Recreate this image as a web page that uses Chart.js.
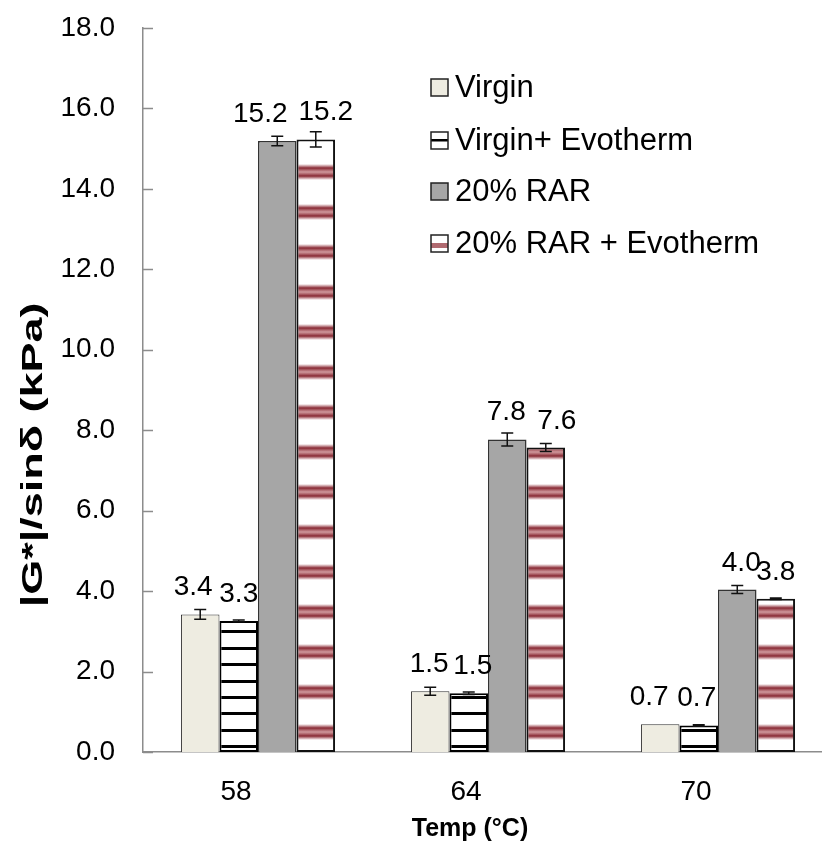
<!DOCTYPE html>
<html>
<head>
<meta charset="utf-8">
<script src="https://cdn.jsdelivr.net/npm/chart.js@4.4.0/dist/chart.umd.min.js"></script>
<style>
  html, body { margin: 0; padding: 0; background: #fff; overflow: hidden; }
  #wrap { width: 833px; height: 848px; }
</style>
</head>
<body>
<div id="wrap"><canvas id="g" width="833" height="848"></canvas></div>
<script>
// categorias e valores
var temps = ['58', '64', '70'];
var nomes = ['Virgin', 'Virgin+ Evotherm', '20% RAR', '20% RAR + Evotherm'];
var virgin      = [3.42, 1.51, 0.69];
var virginEvo   = [3.26, 1.46, 0.66];
var rar         = [15.19, 7.77, 4.04];
var rarEvo      = [15.23, 7.57, 3.81];
// barras de erro (+/-)
var errVirgin    = [0.12, 0.10, 0.00];
var errVirginEvo = [0.02, 0.03, 0.02];
var errRar       = [0.12, 0.16, 0.10];
var errRarEvo    = [0.19, 0.10, 0.02];
var yTicks = [0, 2, 4, 6, 8, 10, 12, 14, 16, 18];

// deslocamento horizontal dos rótulos (como o Excel afastou os textos)
var desloc = [[-7, -1, -11], [0, 4, -2], [-17, -1, 4], [10, 11, 0]];

var fonte = '"Liberation Sans", Arial, sans-serif';
var cinzaEixo = '#8c8c8c';

// padrão listrado preto (Virgin + Evotherm)
function padraoPreto() {
  var c = document.createElement('canvas');
  c.width = 8; c.height = 164;
  var x = c.getContext('2d');
  x.fillStyle = '#fff';
  x.fillRect(0, 0, 8, 164);
  x.fillStyle = '#000';
  for (var i = 0; i < 10; i++) {
    var y = Math.round(8.7 + i * 16.4 - 1.5);
    x.fillRect(0, y, 8, 3);
  }
  return x.createPattern(c, 'repeat');
}

// padrão listrado vermelho borrado (20% RAR + Evotherm)
function padraoVermelho() {
  var c = document.createElement('canvas');
  c.width = 8; c.height = 40;
  var x = c.getContext('2d');
  x.fillStyle = '#fff';
  x.fillRect(0, 0, 8, 40);
  var g = x.createLinearGradient(0, 4, 0, 20);
  g.addColorStop(0, 'rgba(150,50,60,0)');
  g.addColorStop(0.25, 'rgba(135,40,50,1)');
  g.addColorStop(0.5, 'rgba(195,125,130,0.8)');
  g.addColorStop(0.75, 'rgba(135,40,50,1)');
  g.addColorStop(1, 'rgba(150,50,60,0)');
  x.fillStyle = g;
  x.fillRect(0, 4, 8, 16);
  return x.createPattern(c, 'repeat');
}

var pPreto = padraoPreto();
var pVermelho = padraoVermelho();
var erros = [errVirgin, errVirginEvo, errRar, errRarEvo];

// desenha barras de erro, rótulos, ticks internos, legenda e títulos
var extras = {
  id: 'extras',
  afterDatasetsDraw: function (chart) {
    var ctx = chart.ctx;
    var ys = chart.scales.y;
    ctx.save();
    chart.data.datasets.forEach(function (ds, i) {
      var meta = chart.getDatasetMeta(i);
      meta.data.forEach(function (bar, j) {
        var v = ds.data[j], e = erros[i][j];
        var x = bar.x;
        if (e > 0) {
          var y1 = ys.getPixelForValue(v + e), y2 = ys.getPixelForValue(v - e);
          ctx.strokeStyle = '#111';
          ctx.lineWidth = 1.5;
          ctx.beginPath();
          ctx.moveTo(x, y1); ctx.lineTo(x, y2);
          ctx.moveTo(x - 6, y1); ctx.lineTo(x + 6, y1);
          ctx.moveTo(x - 6, y2); ctx.lineTo(x + 6, y2);
          ctx.stroke();
        }
        ctx.fillStyle = '#000';
        ctx.font = '28px ' + fonte;
        ctx.textAlign = 'center';
        ctx.textBaseline = 'alphabetic';
        ctx.fillText(v.toFixed(1), x + desloc[i][j], bar.y - 19);
      });
    });
    // ticks para dentro no eixo y
    ctx.strokeStyle = cinzaEixo;
    ctx.lineWidth = 1.5;
    ctx.beginPath();
    yTicks.forEach(function (t) {
      var y = Math.round(ys.getPixelForValue(t)) + 0.5;
      ctx.moveTo(chart.chartArea.left, y);
      ctx.lineTo(chart.chartArea.left + 10, y);
    });
    ctx.stroke();
    ctx.restore();
  },
  afterDraw: function (chart) {
    var ctx = chart.ctx;
    ctx.save();
    // legenda
    var linhas = [87, 140, 191, 243];
    ctx.font = '31px ' + fonte;
    ctx.textBaseline = 'middle';
    ctx.textAlign = 'left';
    nomes.forEach(function (n, i) {
      var y = linhas[i], bx = 431, by = y - 8, s = 17;
      ctx.fillStyle = '#fff';
      ctx.fillRect(bx, by, s, s);
      if (i === 0) { ctx.fillStyle = '#eeece1'; ctx.fillRect(bx, by, s, s); }
      if (i === 1) { ctx.fillStyle = '#000'; ctx.fillRect(bx, by + 7, s, 2.5); }
      if (i === 2) { ctx.fillStyle = '#a6a6a6'; ctx.fillRect(bx, by, s, s); }
      if (i === 3) { ctx.fillStyle = '#b06a70'; ctx.fillRect(bx, by + 8, s, 5); }
      ctx.strokeStyle = '#222';
      ctx.lineWidth = 1.5;
      ctx.strokeRect(bx, by, s, s);
      ctx.fillStyle = '#000';
      ctx.fillText(n, 455, y + 1);
    });
    // títulos dos eixos
    ctx.font = 'bold 25px ' + fonte;
    ctx.textAlign = 'center';
    ctx.fillText('Temp (\u00B0C)', 470, 829);
    ctx.translate(34, 455);
    ctx.rotate(-Math.PI / 2);
    ctx.scale(1.55, 1);
    ctx.font = 'bold 29px ' + fonte;
    ctx.fillText('|G*|/sin\u03B4 (kPa)', 0, 0);
    ctx.restore();
  }
};

var ctx = document.getElementById('g').getContext('2d');
var chart = new Chart(ctx, {
  type: 'bar',
  data: {
    labels: temps,
    datasets: [{
      label: nomes[0],
      data: virgin,
      backgroundColor: '#eeece1',
      borderColor: '#333',
      borderWidth: 1,
      borderSkipped: 'bottom'
    }, {
      label: nomes[1],
      data: virginEvo,
      backgroundColor: pPreto,
      borderColor: '#000',
      borderWidth: 2,
      borderSkipped: false
    }, {
      label: nomes[2],
      data: rar,
      backgroundColor: '#a6a6a6',
      borderColor: '#333',
      borderWidth: 1.5,
      borderSkipped: 'bottom'
    }, {
      label: nomes[3],
      data: rarEvo,
      backgroundColor: pVermelho,
      borderColor: '#111',
      borderWidth: 2,
      borderSkipped: false
    }]
  },
  options: {
    responsive: false,
    animation: false,
    devicePixelRatio: 1,
    layout: { padding: { top: 28, right: 0, left: 0, bottom: 0 } },
    plugins: { legend: { display: false }, tooltip: { enabled: false } },
    datasets: { bar: { categoryPercentage: 0.67, barPercentage: 1.0 } },
    scales: {
      x: {
        grid: { display: false, drawTicks: false },
        border: { display: true, color: cinzaEixo, width: 1.5 },
        ticks: { font: { family: fonte, size: 28 }, color: '#000', padding: 23, labelOffset: -22 },
        afterFit: function (s) { s.height = 96; }
      },
      y: {
        min: 0, max: 18,
        afterBuildTicks: function (s) { s.ticks = yTicks.map(function (v) { return { value: v }; }); },
        grid: { display: false, drawTicks: false },
        border: { display: true, color: cinzaEixo, width: 1.5 },
        ticks: {
          font: { family: fonte, size: 28 }, color: '#000', padding: 28,
          callback: function (v) { return Number(v).toFixed(1); }
        },
        afterFit: function (s) { s.width = 143; s.paddingTop = 0; s.paddingBottom = 0; }
      }
    }
  },
  plugins: [extras]
});
</script>
</body>
</html>
